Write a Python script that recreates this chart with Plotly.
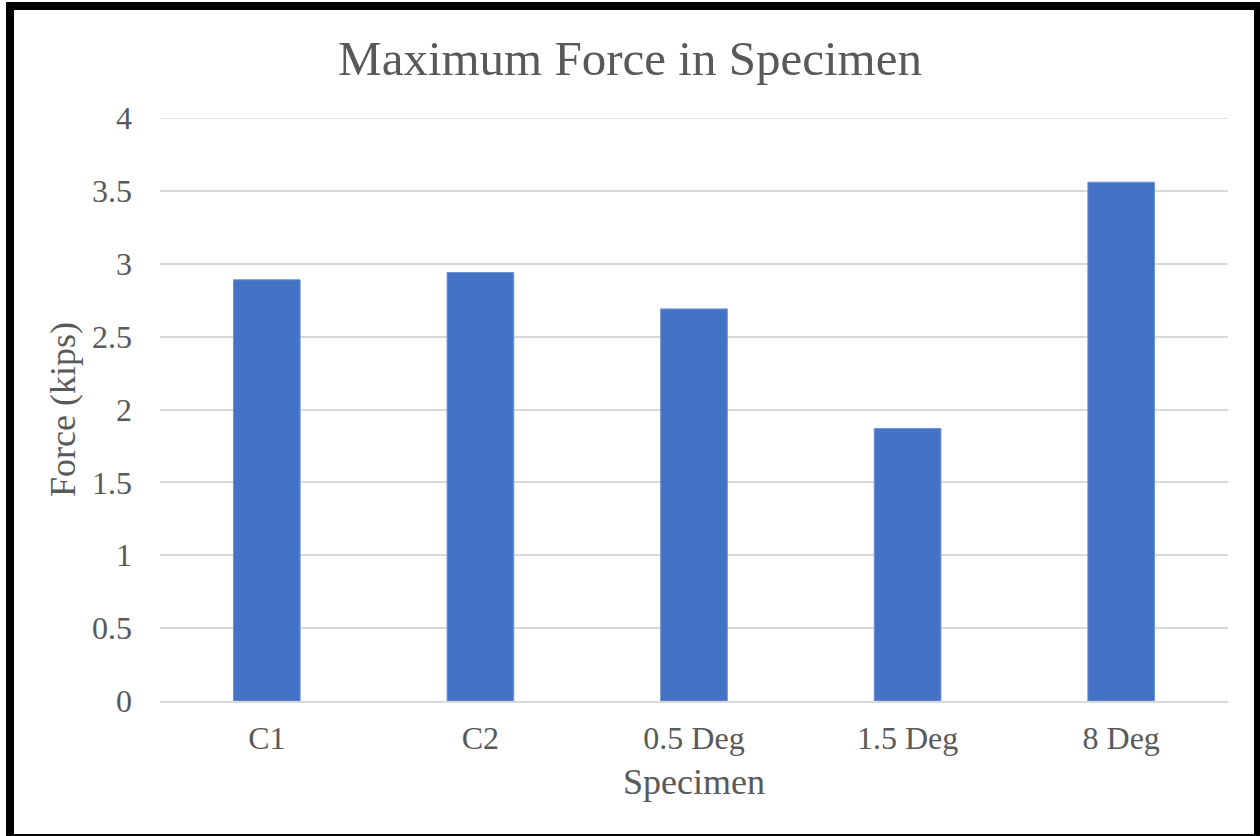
import plotly.graph_objects as go

categories = ["C1", "C2", "0.5 Deg", "1.5 Deg", "8 Deg"]
max_force = [2.89, 2.94, 2.69, 1.87, 3.56]
y_ticks = [0, 0.5, 1, 1.5, 2, 2.5, 3, 3.5, 4]
y_tick_labels = ["0", "0.5", "1", "1.5", "2", "2.5", "3", "3.5", "4"]

FONT = "Liberation Serif, Times New Roman, serif"
GREY = "#595959"
GRID = "#D9D9D9"

W, H = 1260, 836
L, R, T, B = 160, 32, 118, 135
pw, ph = W - L - R, H - T - B

def px_x(p):
    return (p - L) / pw

def px_y(p):
    return (H - B - p) / ph

fig = go.Figure(
    go.Bar(
        x=categories,
        y=max_force,
        marker=dict(color="#4472C4", line=dict(color="#6F93D6", width=1)),
    )
)

fig.update_layout(
    width=W,
    height=H,
    margin=dict(l=L, r=R, t=T, b=B),
    paper_bgcolor="white",
    plot_bgcolor="white",
    bargap=0.688,
    showlegend=False,
    title=dict(
        text="Maximum Force in Specimen",
        x=0.5,
        xanchor="center",
        y=1 - 58 / H,
        yanchor="middle",
        font=dict(family=FONT, size=49, color=GREY),
    ),
    font=dict(family=FONT, color=GREY),
    xaxis=dict(
        showgrid=False,
        showline=True,
        linecolor=GRID,
        linewidth=1.5,
        ticks="",
        tickfont=dict(family=FONT, size=32, color=GREY),
        ticklabelstandoff=8,
        title=dict(text="Specimen", font=dict(family=FONT, size=36, color=GREY), standoff=14),
    ),
    yaxis=dict(
        range=[0, 4],
        tickvals=y_ticks,
        ticktext=y_tick_labels,
        showgrid=True,
        gridcolor=GRID,
        gridwidth=1.5,
        zeroline=False,
        showline=False,
        ticks="",
        tickfont=dict(family=FONT, size=32, color=GREY),
        ticklabelstandoff=27,
        title=dict(text="Force (kips)", font=dict(family=FONT, size=36, color=GREY), standoff=5),
    ),
    shapes=[
        # top gridline (value 4), which plotly omits at the range edge
        dict(
            type="line",
            xref="paper",
            yref="y",
            x0=0,
            x1=1,
            y0=y_ticks[-1],
            y1=y_ticks[-1],
            line=dict(color=GRID, width=1.5),
            layer="below",
        ),
        dict(
            type="rect",
            xref="paper",
            yref="paper",
            x0=px_x(10),
            x1=px_x(1258),
            y0=px_y(838),
            y1=px_y(6),
            line=dict(color="black", width=8),
            fillcolor="rgba(0,0,0,0)",
            layer="above",
        ),
    ],
)

fig.write_html(
    "out.html",
    config={"displayModeBar": False},
    post_script="document.body.style.margin='0px';document.body.style.overflow='hidden';",
)
